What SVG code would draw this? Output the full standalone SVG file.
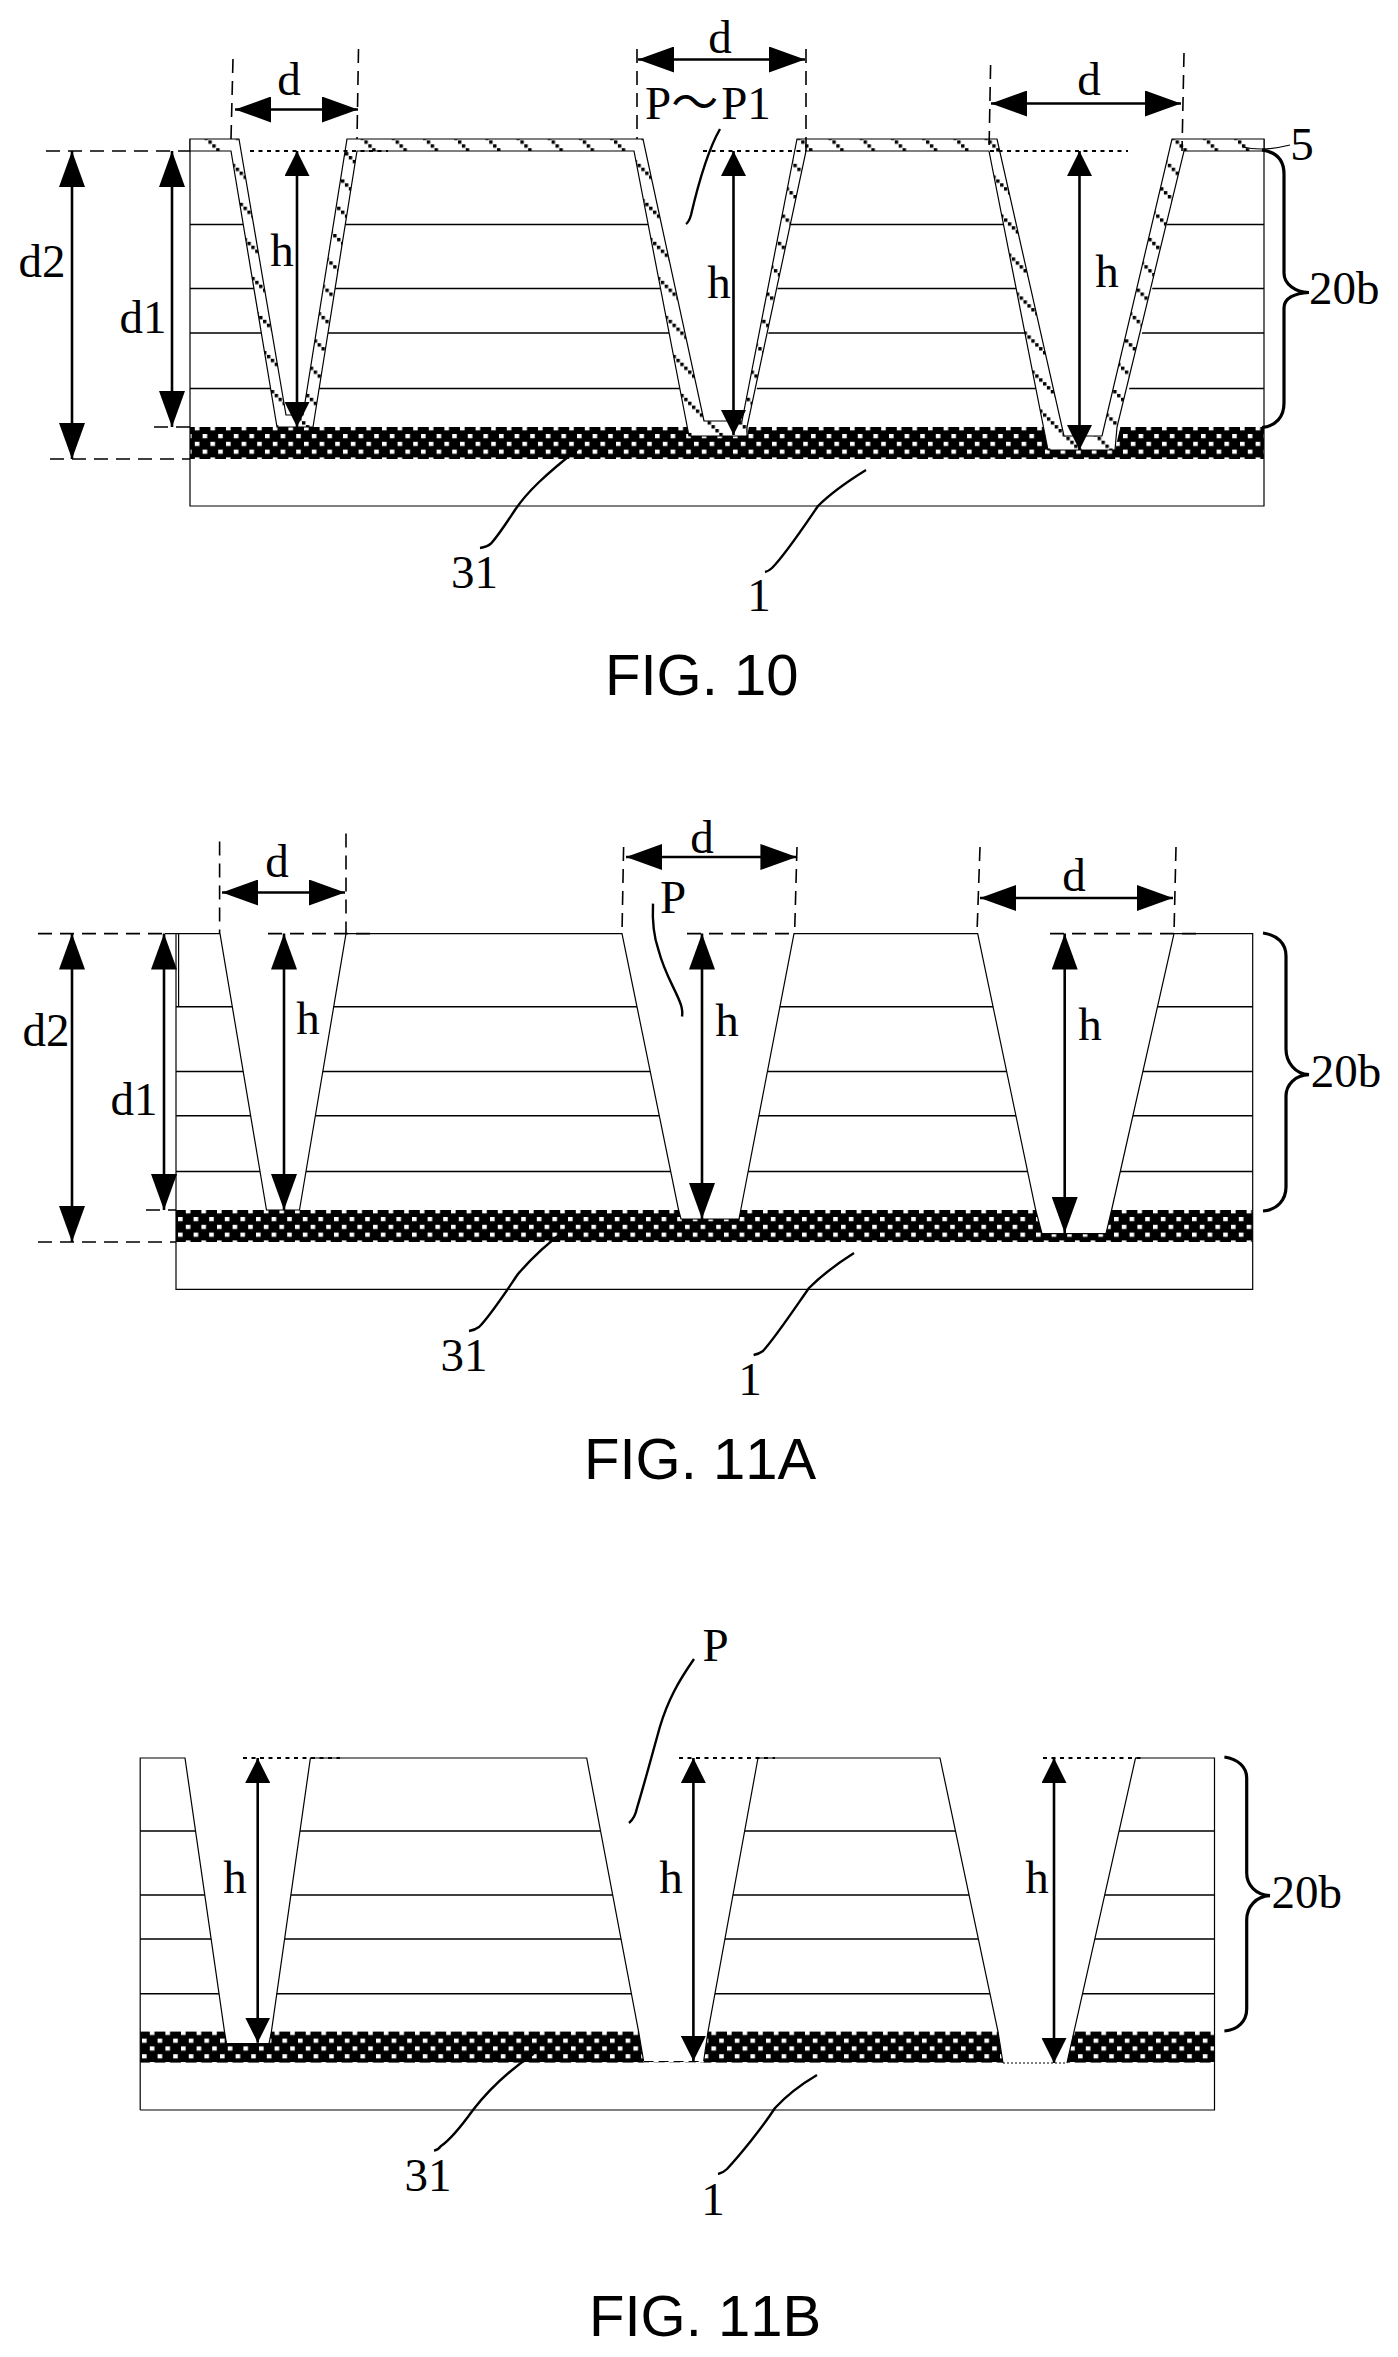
<svg xmlns="http://www.w3.org/2000/svg" width="1398" height="2357" viewBox="0 0 1398 2357">
<style>
text{fill:#000}
.t{font-family:"Liberation Serif","Noto Sans CJK SC",serif;font-size:47px;text-anchor:middle;font-kerning:none}
.s{text-anchor:start}
.cap{font-family:"Liberation Sans",Arial,sans-serif;font-size:58px;font-kerning:none}
.e{fill:none;stroke:#000;stroke-width:1.2}
.ly{stroke:#000;stroke-width:1.5;fill:none}
.cut{fill:#fff;stroke:none}
.film{fill:url(#hatch);stroke:#000;stroke-width:1.2}
.a{stroke:#000;stroke-width:2.6;fill:none}
.a1{marker-start:url(#h36);marker-end:url(#h36)}
.a2{marker-start:url(#h25);marker-end:url(#h25)}
.dash{stroke:#000;stroke-width:1.6;stroke-dasharray:14 8;fill:none}
.dot{stroke:#000;stroke-width:2;stroke-dasharray:4 4.5;fill:none}
.ldr{stroke:#000;stroke-width:2.4;fill:none}
.brace{stroke:#000;stroke-width:3.2;fill:none}
</style>
<defs>
<marker id="h36" markerUnits="userSpaceOnUse" markerWidth="36" markerHeight="26" viewBox="0 0 36 26" refX="36" refY="13" orient="auto-start-reverse"><path d="M0 0L36 13L0 26Z" fill="#000"/></marker>
<marker id="h25" markerUnits="userSpaceOnUse" markerWidth="25" markerHeight="25" viewBox="0 0 25 25" refX="25" refY="12.5" orient="auto-start-reverse"><path d="M0 0L25 12.5L0 25Z" fill="#000"/></marker>
<pattern id="dots" patternUnits="userSpaceOnUse" x="249.4" y="434" width="15.6" height="15.6"><rect width="15.6" height="15.6" fill="#000"/><rect x="0" y="0" width="4.6" height="4.2" fill="#fff"/><rect x="7.8" y="7.8" width="4.6" height="4.2" fill="#fff"/></pattern>
<pattern id="dotsA" href="#dots" x="178" y="1217"/>
<pattern id="dotsB" href="#dots" x="142" y="2038.6"/>
<pattern id="hatch" patternUnits="userSpaceOnUse" x="68" y="0" width="31.2" height="31.2"><rect width="31.2" height="31.2" fill="#fff"/><path d="M0 0h3.4v3.4h-3.4zM3.9 3.9h3.4v3.4h-3.4zM7.8 7.8h3.4v3.4h-3.4zM11.7 11.7h3.4v3.4h-3.4zM15.6 15.6h3.4v3.4h-3.4zM19.5 19.5h3.4v3.4h-3.4zM23.4 23.4h3.4v3.4h-3.4zM27.3 27.3h3.4v3.4h-3.4z" fill="#000"/></pattern>
</defs>
<rect width="1398" height="2357" fill="#fff"/>

<g id="fig10">
<g id="fig10-stack">
<path class="ly" d="M190 224.5H1264M190 288.5H1264M190 333H1264M190 388.5H1264"/>
<rect x="190" y="427" width="1074" height="32" fill="url(#dots)"/>
<path class="cut" d="M231 151L277 427H313L357 151ZM634 151L689 436H747L806 151ZM989 151L1048 450H1115L1184 151Z"/>
<path class="e" d="M190 139V506H1264V139"/>
</g>
<path id="fig10-film" class="film" d="M190 139H239L286 415H303L347 139H643L704 421H742L797 139H997L1064 436H1102L1172 139H1264V151H1184L1117 427L1115 450H1048L989 151H806L747 427V436H689L634 151H357L313 427H277L231 151H190Z"/>
<g id="fig10-connectors">
<path class="dash" d="M46 151H190M50 459H190M154 427H190M233 59L231 139M358.500 49L357 139M637 49V139M806 49V151M990.600 65L989 151M1184 53L1182 151"/>
<path class="dot" d="M250 151H388M703 151H806M990 151H1128"/>
<line class="a a1" x1="72" y1="151" x2="72" y2="459"/>
<line class="a a1" x1="172" y1="151" x2="172" y2="427"/>
<line class="a a2" x1="297" y1="151" x2="297" y2="427"/>
<line class="a a2" x1="733.500" y1="151" x2="733.500" y2="435"/>
<line class="a a2" x1="1079.500" y1="151" x2="1079.500" y2="450"/>
<line class="a a1" x1="235" y1="109.500" x2="358" y2="109.500"/>
<line class="a a1" x1="638" y1="59.500" x2="805" y2="59.500"/>
<line class="a a1" x1="991" y1="103.500" x2="1181" y2="103.500"/>
<path class="ldr" d="M578 449C545 475 527 492 515 510C505 525 498 536 491 543.500Q487 547 480 548"/>
<path class="ldr" d="M866 470C845 483 830 494 818 506C805 525 785 555 772 568Q769 571 765 572"/>
<path class="ldr" d="M720 129C708 150 698 185 691 215Q689 222 686 224"/>
<path d="M1243 147C1255 150 1270 150 1290 145" fill="none" stroke="#000" stroke-width="1.200"/>
<path class="brace" d="M1262 150C1276 152 1284 160 1284 174V273C1284 284 1295 292 1309 292.500C1295 293 1284 298 1284 308V403C1284 417 1276 426 1262 427.500"/>
</g>
<g id="fig10-labels">
<text class="t" x="289" y="95">d</text>
<text class="t" x="720" y="52.500">d</text>
<text class="t" x="1089" y="95">d</text>
<text class="t" x="42" y="277">d2</text>
<text class="t" x="143" y="333">d1</text>
<text class="t" x="282" y="265.600">h</text>
<text class="t" x="719" y="298">h</text>
<text class="t" x="1107" y="286.500">h</text>
<text class="t s" x="645" y="119">P<tspan>～</tspan><tspan dx="3">P1</tspan></text>
<text class="t" x="1302" y="160">5</text>
<text class="t s" x="1309" y="304">20b</text>
<text class="t" x="474.500" y="588">31</text>
<text class="t" x="759" y="611">1</text>
<text class="cap" x="605" y="695">FIG. 10</text>
</g>
</g>

<g id="fig11a">
<g id="fig11a-stack">
<path class="ly" d="M176 1006.700H1252.700M176 1071.500H1252.700M176 1115.800H1252.700M176 1171.500H1252.700"/>
<rect x="176" y="1210" width="1076.700" height="32" fill="url(#dotsA)"/>
<path class="cut" d="M220 933.600L266.500 1210H299.500L346 933.600ZM622 933.600L678.600 1210L681 1219H739L794 933.600ZM977.700 933.600L1035.700 1210L1042 1233.600H1106L1111.600 1210L1174 933.600Z"/>
<path class="e" d="M176 933.600V1289.300H1252.700V933.600H1174L1111.600 1210L1106 1233.600H1042L1035.700 1210L977.700 933.600H794L739 1219H681L678.600 1210L622 933.600H346L299.500 1210H266.500L220 933.600H165"/>
<path class="e" d="M178.600 933.600V1006.700"/>
</g>
<g id="fig11a-connectors">
<path class="dash" d="M38 933.600H165M38 1242H176M146 1210H176M219.600 841.500V933M346 833.600V933M623.600 847L622 933M797 847L794.600 933M980 847L977 933M1176 847L1174 933M268 933.600H375M687 933.600H794M1050 933.600H1197"/>
<line class="a a1" x1="72" y1="933.600" x2="72" y2="1242"/>
<line class="a a1" x1="164" y1="933.600" x2="164" y2="1210"/>
<line class="a a1" x1="284" y1="933.600" x2="284" y2="1210"/>
<line class="a a1" x1="702" y1="933.600" x2="702" y2="1219"/>
<line class="a a1" x1="1064.700" y1="933.600" x2="1064.700" y2="1233"/>
<line class="a a1" x1="222" y1="892.500" x2="345" y2="892.500"/>
<line class="a a1" x1="626" y1="857" x2="796.400" y2="857"/>
<line class="a a1" x1="980" y1="898" x2="1173" y2="898"/>
<path class="ldr" d="M567 1229C545 1245 530 1260 518 1274C505 1293 490 1316 479 1327Q475 1330 469 1331"/>
<path class="ldr" d="M854 1253C835 1265 820 1277 809 1288C795 1308 775 1338 763 1351Q759 1354 753.600 1355"/>
<path class="ldr" d="M653 903.600C652 925 655 940 658.500 950C665 975 676 990 681 1005Q683 1012 682 1016.600"/>
<path class="brace" d="M1263 933C1277 935 1286 943 1286 956V1049C1286 1062 1295 1074 1309 1074.700C1295 1075 1286 1085 1286 1096V1187C1286 1200 1277 1210 1263 1211"/>
</g>
<g id="fig11a-labels">
<text class="t" x="277" y="877">d</text>
<text class="t" x="702" y="853">d</text>
<text class="t" x="1074" y="891">d</text>
<text class="t" x="46" y="1046">d2</text>
<text class="t" x="134" y="1115">d1</text>
<text class="t" x="308" y="1034">h</text>
<text class="t" x="727" y="1036">h</text>
<text class="t" x="1090" y="1040">h</text>
<text class="t s" x="660" y="912.600">P</text>
<text class="t s" x="1310.700" y="1086.500">20b</text>
<text class="t" x="464" y="1371">31</text>
<text class="t" x="750" y="1395">1</text>
<text class="cap" x="584" y="1479">FIG. 11A</text>
</g>
</g>

<g id="fig11b">
<g id="fig11b-stack">
<path class="ly" d="M140.200 1831H1214.500M140.200 1895H1214.500M140.200 1939H1214.500M140.200 1993.700H1214.500"/>
<rect x="140.200" y="2031.600" width="1074.300" height="31" fill="url(#dotsB)"/>
<path class="cut" d="M185 1758L224.500 2031.600L226.500 2043.500H269L271.400 2031.600L310.400 1758ZM586.700 1758L638.600 2031.600L643.600 2062.600H703.700L708 2031.600L758 1758ZM940 1758L998 2031.600L1003 2063H1067L1074 2031.600L1135.500 1758Z"/>
<path class="e" d="M140.200 2110H1214.500V1758H1135.500L1074 2031.600L1067 2063M1003 2063L998 2031.600L940 1758H758L708 2031.600L703.700 2061M643.600 2061L638.600 2031.600L586.700 1758H310.400L271.400 2031.600L269 2043.500H226.500L224.500 2031.600L185 1758H140.200V2110"/>
<path class="e" d="M1003 2063H1067" stroke-dasharray="2 2"/>
<path class="e" d="M643.600 2061.500H703.700" stroke-dasharray="10 5" stroke-width="1.800"/>
</g>
<g id="fig11b-connectors">
<path class="dot" d="M243 1758H340M679 1758H775M1043 1758H1140.500"/>
<line class="a a2" x1="257.700" y1="1758" x2="257.700" y2="2042.700"/>
<line class="a a2" x1="693.400" y1="1758" x2="693.400" y2="2061"/>
<line class="a a2" x1="1054" y1="1758" x2="1054" y2="2063"/>
<path class="ldr" d="M694 1659C678 1682 668 1700 660 1726.500C652 1755 644 1785 637 1808Q635 1818 629 1823"/>
<path class="ldr" d="M533.600 2053.700C510 2070 490 2088 473 2110C460 2128 450 2140 441 2146Q438 2150 434 2150.600"/>
<path class="ldr" d="M817 2075C800 2085 787 2095 775 2108C762 2128 740 2155 727 2169Q723 2173 718 2174"/>
<path class="brace" d="M1224.400 1757C1238 1759 1246.700 1767 1246.700 1778V1873C1246.700 1885 1256 1895 1270 1895.600C1256 1896 1246.700 1907 1246.700 1920V2009C1246.700 2021 1238 2030 1224.400 2031"/>
</g>
<g id="fig11b-labels">
<text class="t" x="235" y="1893">h</text>
<text class="t" x="671" y="1893">h</text>
<text class="t" x="1037" y="1893">h</text>
<text class="t s" x="702.500" y="1661">P</text>
<text class="t s" x="1271.500" y="1908">20b</text>
<text class="t" x="428" y="2191">31</text>
<text class="t" x="713" y="2214.600">1</text>
<text class="cap" x="589" y="2336">FIG. 11B</text>
</g>
</g>
</svg>
